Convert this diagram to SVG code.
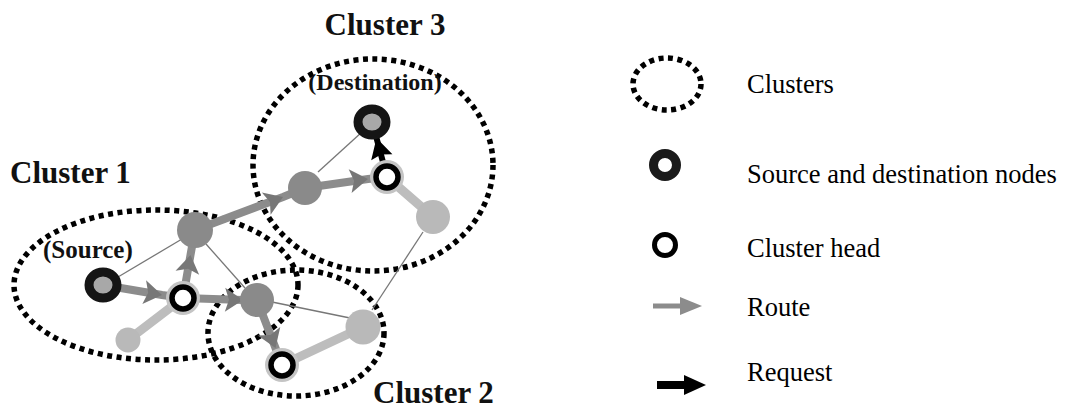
<svg xmlns="http://www.w3.org/2000/svg" width="1067" height="411" viewBox="0 0 1067 411">
<style>
.cl{fill:none;stroke:#000;stroke-width:5.5;stroke-dasharray:5 4.5}
.lbl{font-family:"Liberation Serif","Times New Roman",serif;font-weight:bold;fill:#111}
.leg{font-family:"Liberation Serif","Times New Roman",serif;font-size:26.5px;fill:#000}
.thin{stroke:#777;stroke-width:1.3;fill:none}
.link{stroke:#bdbdbd;stroke-width:9;stroke-linecap:round;fill:none}
.route{stroke:#8c8c8c;stroke-width:8;fill:none;marker-mid:url(#rh)}
.req{stroke:#000;stroke-width:6;fill:none;marker-mid:url(#qh)}
.dn{fill:#8a8a8a}
.ln{fill:#b9b9b9}
.ring{fill:#fff;stroke:#000;stroke-width:5.5}
.halo{fill:#c4c4c4}
.sd{fill:#a8a8a8;stroke:#151515;stroke-width:9}
</style>
<defs>
<marker id="rh" markerUnits="userSpaceOnUse" markerWidth="20" markerHeight="24" refX="18" refY="12" orient="auto" overflow="visible">
<path d="M0,0 L18,12 L0,24 L4,12 Z" fill="#777"/>
</marker>
<marker id="qh" markerUnits="userSpaceOnUse" markerWidth="22" markerHeight="22" refX="20" refY="11" orient="auto" overflow="visible">
<path d="M0,0 L20,11 L0,22 L3,11 Z" fill="#000"/>
</marker>
</defs>

<g id="clusters">
<ellipse id="cluster1" class="cl" cx="156" cy="285" rx="142" ry="75"/>
<ellipse id="cluster2" class="cl" cx="296" cy="333" rx="88" ry="63"/>
<ellipse id="cluster3" class="cl" cx="373" cy="165" rx="120" ry="106"/>
</g>

<g id="connectors">
<line class="thin" x1="118" y1="277" x2="182" y2="239"/>
<line class="thin" x1="206" y1="244" x2="245" y2="288"/>
<line class="thin" x1="272" y1="302" x2="350" y2="318"/>
<line class="thin" x1="372" y1="310" x2="423" y2="232"/>
<line class="thin" x1="318" y1="172" x2="362" y2="132"/>
<line class="link" x1="183" y1="298" x2="128" y2="340"/>
<line class="link" x1="282" y1="365" x2="363" y2="327"/>
<line class="link" x1="387" y1="177" x2="433" y2="217"/>
<path class="route" d="M103,285 L162,295 L183,298"/>
<path class="route" d="M183,298 L190.5,255 L195,230"/>
<path class="route" d="M195,230 L283,197 L305,188"/>
<path class="route" d="M183,298 L243,300 L257,300"/>
<path class="route" d="M257,300 L275.5,348 L282,365"/>
<path class="route" d="M305,188 L368,179 L387,177"/>
<path class="req" d="M387,177 L376.5,138 L372,122"/>
</g>

<g id="node-leaf1"><circle class="ln" cx="128" cy="340" r="12.5"/></g>
<g id="node-n1"><circle class="dn" cx="195" cy="230" r="18"/></g>
<g id="node-n2"><circle class="dn" cx="257" cy="300" r="17"/></g>
<g id="node-n3"><circle class="dn" cx="305" cy="188" r="17"/></g>
<g id="node-n4"><circle class="ln" cx="363" cy="327" r="17.5"/></g>
<g id="node-n5"><circle class="ln" cx="433" cy="217" r="17"/></g>
<g id="node-ch1"><circle class="halo" cx="183" cy="298" r="17"/><circle class="ring" cx="183" cy="298" r="11"/></g>
<g id="node-ch2"><circle class="halo" cx="282" cy="365" r="17"/><circle class="ring" cx="282" cy="365" r="11"/></g>
<g id="node-ch3"><circle class="halo" cx="387" cy="177" r="17"/><circle class="ring" cx="387" cy="177" r="11"/></g>
<g id="node-source"><ellipse class="sd" cx="103" cy="285" rx="14" ry="13"/></g>
<g id="node-destination"><ellipse class="sd" cx="372" cy="122" rx="14" ry="13"/></g>

<g id="labels">
<text class="lbl" x="385" y="35" font-size="31" text-anchor="middle">Cluster 3</text>
<text class="lbl" x="375" y="90" font-size="24" text-anchor="middle">(Destination)</text>
<text class="lbl" x="10" y="183" font-size="31">Cluster 1</text>
<text class="lbl" x="43" y="258" font-size="25">(Source)</text>
<text class="lbl" x="373" y="403" font-size="31">Cluster 2</text>
</g>

<g id="legend">
<ellipse class="cl" cx="667" cy="84" rx="34" ry="26" stroke-width="4.5"/>
<text class="leg" x="747" y="93">Clusters</text>
<circle cx="665" cy="165" r="11.5" fill="#fff" stroke="#1a1a1a" stroke-width="9"/>
<text class="leg" x="747" y="183">Source and destination nodes</text>
<circle cx="665" cy="245" r="10.5" fill="#fff" stroke="#000" stroke-width="5"/>
<text class="leg" x="747" y="257">Cluster head</text>
<path d="M653,306 L682,306" stroke="#8c8c8c" stroke-width="5"/>
<path d="M680,297 L702,306 L680,315 Z" fill="#8c8c8c"/>
<text class="leg" x="747" y="316">Route</text>
<path d="M657,385 L686,385" stroke="#000" stroke-width="8"/>
<path d="M684,375 L706,385 L684,395 Z" fill="#000"/>
<text class="leg" x="747" y="381">Request</text>
</g>
</svg>
